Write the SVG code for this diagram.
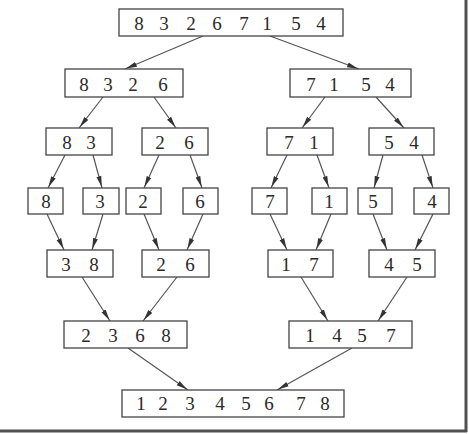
<svg xmlns="http://www.w3.org/2000/svg" width="469" height="434" viewBox="0 0 469 434">
<style>
.box{fill:#fff;stroke:#444;stroke-width:1.3}
.t{font-family:"Liberation Serif","Times New Roman",serif;font-size:19px;fill:#2a2a2a;text-anchor:middle}
.c{stroke:#555;stroke-width:1.2;fill:none;marker-end:url(#ah)}
.frame{stroke:#505050;stroke-width:3;fill:none}
</style>
<defs>
<marker id="ah" markerUnits="userSpaceOnUse" markerWidth="14" markerHeight="7" refX="12" refY="3.5" orient="auto">
<path d="M0,1 L11,3.5 L0,6 Z" fill="#333"/>
</marker>
</defs>
<rect width="469" height="434" fill="#fff"/>
<g id="frame">
<line class="frame" x1="466" y1="0" x2="466" y2="432"/>
<line class="frame" x1="0" y1="431" x2="467" y2="431"/>
</g>
<g id="connectors">
<line class="c" x1="203" y1="36" x2="125" y2="69"/>
<line class="c" x1="270" y1="36" x2="359" y2="69"/>
<line class="c" x1="103" y1="97" x2="79" y2="128"/>
<line class="c" x1="154" y1="97" x2="176" y2="128"/>
<line class="c" x1="325" y1="97" x2="302" y2="128"/>
<line class="c" x1="376" y1="97" x2="404" y2="128"/>
<line class="c" x1="65" y1="155" x2="48" y2="188"/>
<line class="c" x1="93" y1="155" x2="102" y2="188"/>
<line class="c" x1="159" y1="155" x2="144" y2="188"/>
<line class="c" x1="190" y1="155" x2="202" y2="188"/>
<line class="c" x1="287" y1="155" x2="271" y2="188"/>
<line class="c" x1="317" y1="155" x2="329" y2="188"/>
<line class="c" x1="383" y1="155" x2="374" y2="188"/>
<line class="c" x1="422" y1="155" x2="433" y2="188"/>
<line class="c" x1="47" y1="214" x2="64" y2="250"/>
<line class="c" x1="103" y1="214" x2="92" y2="250"/>
<line class="c" x1="144" y1="214" x2="159" y2="250"/>
<line class="c" x1="203" y1="214" x2="187" y2="250"/>
<line class="c" x1="270" y1="214" x2="287" y2="250"/>
<line class="c" x1="331" y1="214" x2="316" y2="250"/>
<line class="c" x1="373" y1="214" x2="387" y2="250"/>
<line class="c" x1="433" y1="214" x2="415" y2="250"/>
<line class="c" x1="82" y1="277" x2="110" y2="321"/>
<line class="c" x1="177" y1="277" x2="143" y2="321"/>
<line class="c" x1="301" y1="277" x2="328" y2="321"/>
<line class="c" x1="407" y1="277" x2="378" y2="321"/>
<line class="c" x1="128" y1="348" x2="188" y2="390"/>
<line class="c" x1="352" y1="348" x2="277" y2="390"/>
</g>
<g id="n0"><rect class="box" x="119" y="9" width="224" height="27"/><text class="t" x="139 151 164 177 191 204 217 230 244 255 267 281 296 308 321" y="30">8 3 2 6 7 1 5 4</text></g>
<g id="n1"><rect class="box" x="65" y="69" width="118" height="28"/><text class="t" x="84 96 108 120 133 148 163" y="91">8 3 2 6</text></g>
<g id="n2"><rect class="box" x="290" y="69" width="121" height="28"/><text class="t" x="311 322 334 350 366 378 390" y="91">7 1 5 4</text></g>
<g id="n3"><rect class="box" x="46" y="128" width="66" height="27"/><text class="t" x="67 79 91" y="149">8 3</text></g>
<g id="n4"><rect class="box" x="142" y="128" width="66" height="27"/><text class="t" x="160 174 189" y="149">2 6</text></g>
<g id="n5"><rect class="box" x="267" y="128" width="66" height="27"/><text class="t" x="289 301 314" y="149">7 1</text></g>
<g id="n6"><rect class="box" x="369" y="128" width="65" height="27"/><text class="t" x="389 401 414" y="149">5 4</text></g>
<g id="n7"><rect class="box" x="28" y="188" width="35" height="26"/><text class="t" x="46" y="208">8</text></g>
<g id="n8"><rect class="box" x="83" y="188" width="36" height="26"/><text class="t" x="100" y="208">3</text></g>
<g id="n9"><rect class="box" x="126" y="188" width="35" height="26"/><text class="t" x="143" y="208">2</text></g>
<g id="n10"><rect class="box" x="183" y="188" width="35" height="26"/><text class="t" x="200" y="208">6</text></g>
<g id="n11"><rect class="box" x="252" y="188" width="35" height="26"/><text class="t" x="270" y="208">7</text></g>
<g id="n12"><rect class="box" x="312" y="188" width="35" height="26"/><text class="t" x="329" y="208">1</text></g>
<g id="n13"><rect class="box" x="358" y="188" width="34" height="26"/><text class="t" x="373" y="208">5</text></g>
<g id="n14"><rect class="box" x="414" y="188" width="35" height="26"/><text class="t" x="432" y="208">4</text></g>
<g id="n15"><rect class="box" x="47" y="250" width="66" height="27"/><text class="t" x="66 80 94" y="271">3 8</text></g>
<g id="n16"><rect class="box" x="142" y="250" width="67" height="27"/><text class="t" x="161 176 190" y="271">2 6</text></g>
<g id="n17"><rect class="box" x="268" y="250" width="65" height="27"/><text class="t" x="286 300 314" y="271">1 7</text></g>
<g id="n18"><rect class="box" x="369" y="250" width="66" height="27"/><text class="t" x="389 403 417" y="271">4 5</text></g>
<g id="n19"><rect class="box" x="64" y="321" width="123" height="27"/><text class="t" x="86 100 113 127 140 153 166" y="342">2 3 6 8</text></g>
<g id="n20"><rect class="box" x="289" y="321" width="123" height="27"/><text class="t" x="310 324 337 350 362 377 391" y="342">1 4 5 7</text></g>
<g id="n21"><rect class="box" x="122" y="390" width="222" height="27"/><text class="t" x="141 152 163 177 190 205 220 233 246 258 269 285 301 313 325" y="410">1 2 3 4 5 6 7 8</text></g>
</svg>
